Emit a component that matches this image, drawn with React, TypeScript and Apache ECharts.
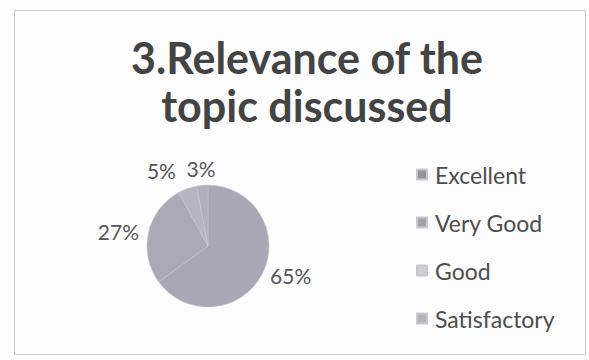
import React, { useEffect, useRef } from "react";
import * as echarts from "echarts";

const categories = ["Excellent", "Very Good", "Good", "Satisfactory"];
const values = [65, 27, 5, 3];
const sliceColors = ["#a9a6b6", "#aba8b8", "#b6b4c1", "#b1afbc"];
const legendColors = ["#959499", "#a3a2a8", "#cfced2", "#b3b2b8"];
const labelLineLengths = [3, 4.6, 19, 17.3];
const titleText = "3.Relevance of the\ntopic discussed";

export default function App() {
  const ref = useRef<HTMLDivElement>(null);
  useEffect(() => {
    document.body.style.margin = "0";
    const chart = echarts.init(ref.current!, null, { renderer: "svg" });
    const font = "Lato, 'Open Sans', sans-serif";
    chart.setOption({
      animation: false,
      backgroundColor: "#fcfcfc",
      title: {
        text: titleText,
        left: 302,
        top: 28,
        textAlign: "center",
        textStyle: {
          fontFamily: font,
          fontWeight: "bold",
          fontSize: 43,
          lineHeight: 48,
          color: "#434343",
        },
      },
      legend: {
        orient: "vertical",
        left: 411,
        top: 158,
        itemWidth: 10,
        itemHeight: 10,
        itemGap: 25,
        icon: "rect",
        data: categories.map((c, i) => ({ name: c, itemStyle: { color: legendColors[i] } })),
        textStyle: {
          fontFamily: font,
          fontSize: 23,
          lineHeight: 23,
          color: "#4d4d4d",
          padding: [0, 0, 0, 3],
        },
      },
      graphic: [
        {
          type: "rect",
          shape: { x: 14.5, y: 10.5, width: 571, height: 344 },
          style: { fill: "none", stroke: "#c8c8c8", lineWidth: 1 },
          silent: true,
        },
      ],
      series: [
        {
          type: "pie",
          center: [208, 246],
          radius: 61,
          startAngle: 90,
          clockwise: true,
          avoidLabelOverlap: false,
          itemStyle: { borderColor: "#c9c7d1", borderWidth: 0.5 },
          label: {
            show: true,
            position: "outside",
            formatter: "{d}%",
            fontFamily: font,
            fontSize: 21,
            color: "#555555",
          },
          labelLine: { show: false, length2: 0 },
          labelLayout: (p: any) => (p.dataIndex === 3 ? { dx: 20 } : {}),
          data: categories.map((c, i) => ({
            name: c,
            value: values[i],
            itemStyle: { color: sliceColors[i] },
            labelLine: { show: false, length: labelLineLengths[i], length2: 0 },
            label:
              i === 0
                ? { padding: [10, 0, 0, 0] }
                : i === 2 || i === 3
                ? { padding: [0, 0, 5, 0] }
                : {},
          })),
        },
      ],
    });
    return () => chart.dispose();
  }, []);
  return <div ref={ref} style={{ width: 589, height: 360 }} />;
}
